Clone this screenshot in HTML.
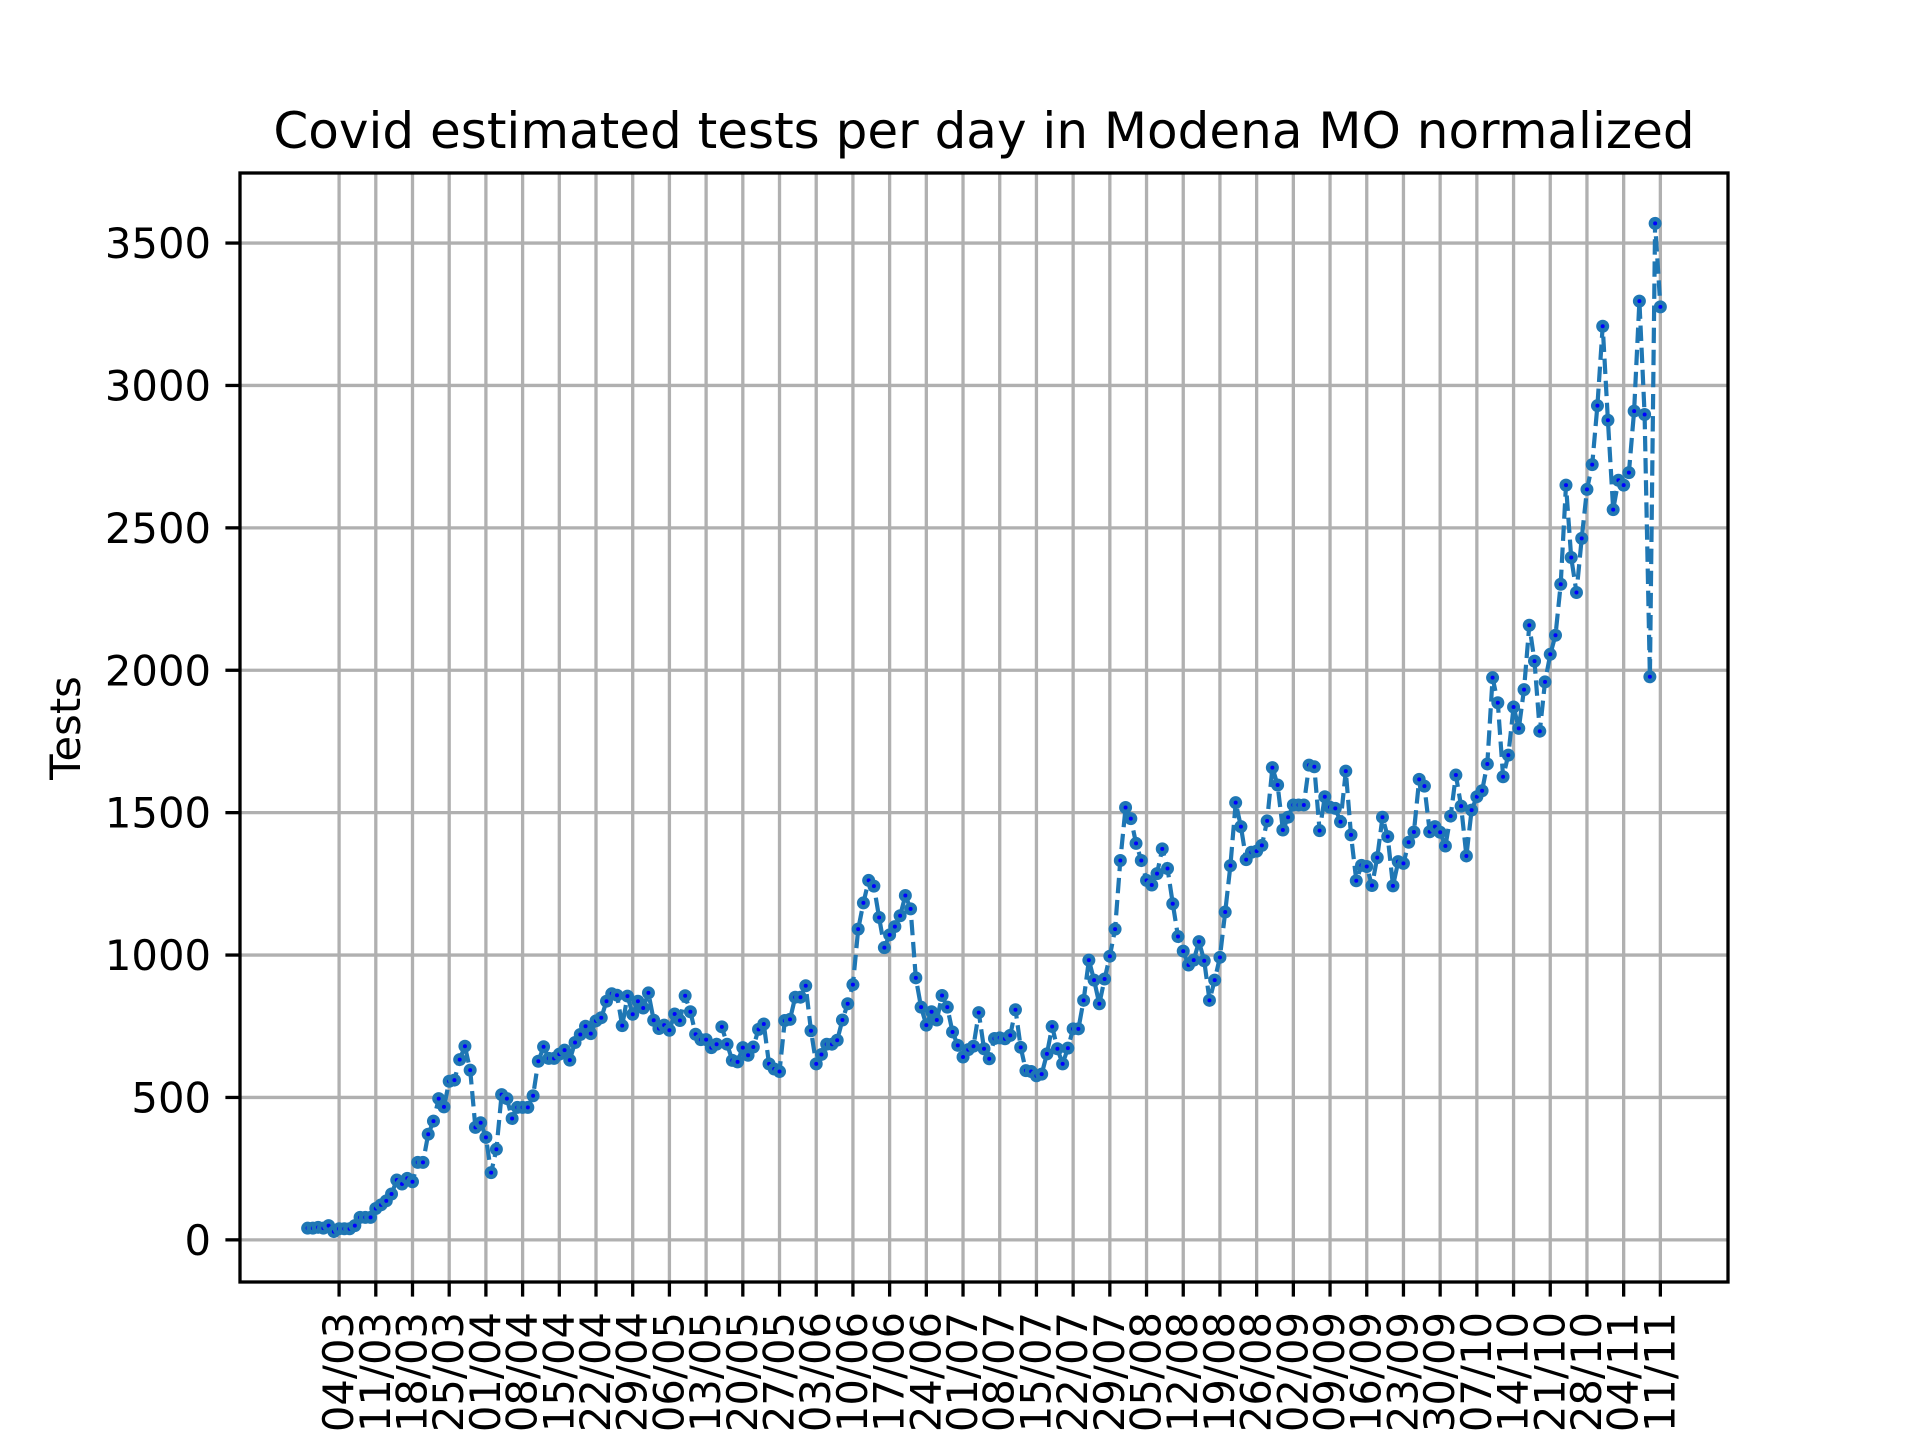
<!DOCTYPE html>
<html><head><meta charset="utf-8"><style>
html,body{margin:0;padding:0;background:#fff;}
svg{display:block;}
text{font-family:"DejaVu Sans","Liberation Sans",sans-serif;fill:#000;}
</style></head>
<body>
<svg id="chart" width="1920" height="1440" viewBox="0 0 1920 1440" xmlns="http://www.w3.org/2000/svg">
<rect width="1920" height="1440" fill="#fff"/>
<text x="984" y="148" font-size="50" text-anchor="middle">Covid estimated tests per day in Modena MO normalized</text>
<text transform="translate(80,728) rotate(-90)" font-size="41.7" text-anchor="middle">Tests</text>
<g id="grid"></g>
<g id="series"></g>
<g id="axes"></g>
</svg>
<script>
const startDay = -6; // first value is 27/02 (day 0 = 04/03)
const values = [41,41,44,41,50,29,39,39,39,50,79,79,79,110,123,137,161,210,196,216,204,272,272,371,417,496,467,557,561,633,680,596,395,411,360,236,318,510,496,426,465,465,465,506,627,678,637,637,652,666,631,693,721,750,724,769,780,838,864,859,752,856,792,838,814,867,771,
742,754,736,793,770,857,801,722,703,703,675,687,748,687,630,625,675,648,677,739,758,618,600,591,770,774,852,852,892,734,618,651,687,687,701,772,829,896,1091,1183,1262,1242,1132,1026,1071,1100,1138,1209,1162,920,817,754,801,772,858,817,730,683,642,668,680,798,671,636,707,
709,706,718,808,676,594,591,576,582,653,749,671,618,673,741,741,841,982,912,829,916,996,1091,1332,1518,1479,1392,1332,1262,1246,1286,1373,1304,1180,1065,1014,965,982,1047,980,841,912,992,1151,1314,1535,1451,1335,1361,1365,1385,1471,
1658,1597,1439,1484,1527,1527,1527,1667,1661,1437,1556,1519,1515,1468,1646,1422,1261,1315,1311,1244,1342,1484,1416,1243,1328,1322,1396,1432,1617,1593,1433,1451,1431,1383,1488,1632,1523,1348,1509,1556,1577,1671,1974,1886,1626,1702,1871,1796,1932,2158,2032,1786,1959,2056,2123,
2302,2650,2396,2273,2463,2635,2722,2929,3208,2878,2564,2667,2650,2694,2910,3296,2898,1977,3569,3276];
const xTickLabels = ["04/03","11/03","18/03","25/03","01/04","08/04","15/04","22/04","29/04","06/05","13/05","20/05","27/05","03/06","10/06","17/06","24/06","01/07","08/07","15/07","22/07","29/07","05/08","12/08","19/08","26/08","02/09","09/09","16/09","23/09","30/09","07/10","14/10","21/10","28/10","04/11","11/11"];
const xTickDays = [0,7,14,21,28,35,42,49,56,63,70,77,84,91,98,105,112,119,126,133,140,147,154,161,168,175,182,189,196,203,210,217,224,231,238,245,252];
const yTicks = [0,500,1000,1500,2000,2500,3000,3500];

const L=240,R=1728,T=173,B=1282;
const xMin=-18.9,xMax=264.9,yMin=-148,yMax=3746;
function X(d){return L+(d-xMin)/(xMax-xMin)*(R-L);}
function Y(v){return B-(v-yMin)/(yMax-yMin)*(B-T);}
const NS="http://www.w3.org/2000/svg";
function mk(tag,attrs,parent){const e=document.createElementNS(NS,tag);for(const k in attrs)e.setAttribute(k,attrs[k]);parent.appendChild(e);return e;}
const grid=document.getElementById('grid'),series=document.getElementById('series'),axes=document.getElementById('axes');

xTickDays.forEach((d,i)=>{
  const x=X(d);
  const g=mk('line',{x1:x,x2:x,y1:T,y2:B,stroke:'#b0b0b0','stroke-width':3.3},grid);
  
  
  const t=mk('line',{x1:x,x2:x,y1:B,y2:B+14.6,stroke:'#000','stroke-width':3.3},axes);
  
  
  const lb=mk('text',{x:0,y:0,'font-size':41.7,'text-anchor':'end',transform:`translate(${x+14},${B+30}) rotate(-90)`},axes);
  lb.textContent=xTickLabels[i];
  
  
});
yTicks.forEach(v=>{
  const y=Y(v);
  const g=mk('line',{x1:L,x2:R,y1:y,y2:y,stroke:'#b0b0b0','stroke-width':3.3},grid);
  
  
  const t=mk('line',{x1:L-14.6,x2:L,y1:y,y2:y,stroke:'#000','stroke-width':3.3},axes);
  
  
  const lb=mk('text',{x:L-29,y:y+15,'font-size':41.7,'text-anchor':'end'},axes);
  lb.textContent=String(v);
  
  
});
const frame=mk('rect',{x:L,y:T,width:R-L,height:B-T,fill:'none',stroke:'#000','stroke-width':3.3},axes);



const pts=values.map((v,i)=>[X(startDay+i),Y(v)]);
const line=mk('polyline',{points:pts.map(p=>p[0].toFixed(1)+','+p[1].toFixed(1)).join(' '),fill:'none',stroke:'#1f77b4','stroke-width':4.2,'stroke-dasharray':'15.4 6.7','stroke-linejoin':'round'},series);


pts.forEach(p=>{
  const c=mk('circle',{cx:p[0],cy:p[1],r:6.5,fill:'#1f77b4'},series);
  
  
  const d=mk('circle',{cx:p[0],cy:p[1],r:2,fill:'#0000ff'},series);
  
  
});
</script>
</body></html>
